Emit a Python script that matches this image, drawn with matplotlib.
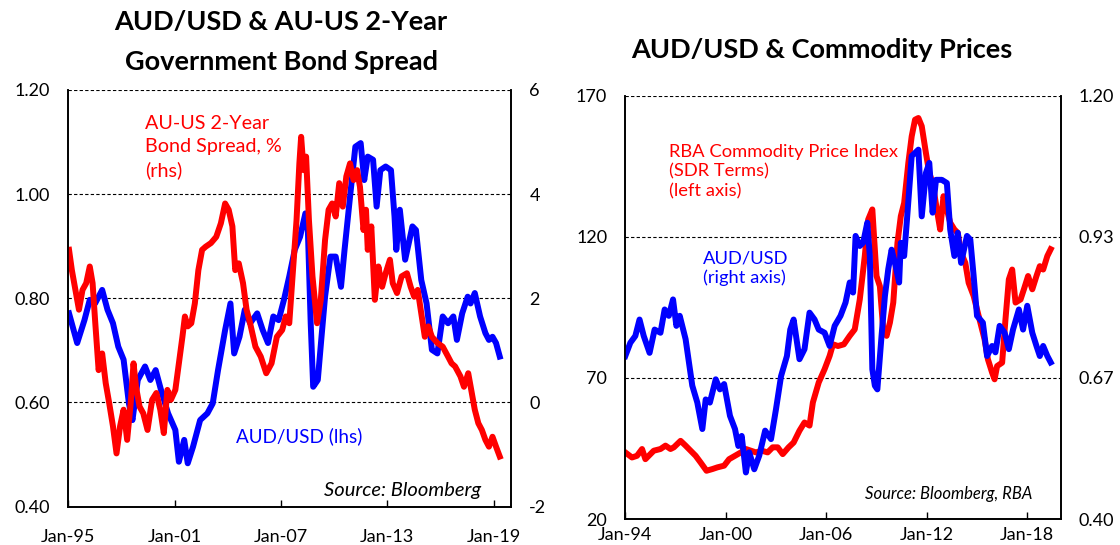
import numpy as np
import matplotlib.pyplot as plt

plt.rcParams['font.family'] = ['Lato', 'DejaVu Sans']

# ---- left chart: AUD/USD (lhs) and AU-US 2y spread (rhs) ----
aud_l_years = [1995.04, 1995.50, 1995.91, 1996.21, 1996.51, 1996.91, 1997.21, 1997.52, 1997.82, 1998.12,
               1998.42, 1998.62, 1998.92, 1999.33, 1999.63, 1999.93, 2000.23, 2000.63, 2001.04, 2001.24,
               2001.54, 2001.74, 2002.04, 2002.44, 2002.85, 2003.15, 2003.45, 2003.85, 2004.15, 2004.36,
               2004.66, 2004.96, 2005.26, 2005.66, 2005.97, 2006.27, 2006.57, 2006.87, 2007.17, 2007.47,
               2007.78, 2008.08, 2008.38, 2008.52, 2008.68, 2008.82, 2009.08, 2009.29, 2009.49, 2009.79,
               2010.09, 2010.39, 2010.59, 2010.90, 2011.20, 2011.50, 2011.70, 2011.90, 2012.20, 2012.40,
               2012.61, 2012.91, 2013.21, 2013.41, 2013.51, 2013.71, 2014.01, 2014.42, 2014.62, 2014.92,
               2015.22, 2015.52, 2015.83, 2016.13, 2016.43, 2016.73, 2016.93, 2017.23, 2017.54, 2017.70,
               2017.94, 2018.24, 2018.54, 2018.74, 2018.94, 2019.14, 2019.35]
aud_l = [0.771, 0.714, 0.758, 0.797, 0.790, 0.816, 0.778, 0.752, 0.707, 0.682,
         0.598, 0.566, 0.643, 0.669, 0.643, 0.662, 0.624, 0.579, 0.547, 0.486,
         0.528, 0.483, 0.515, 0.566, 0.579, 0.598, 0.662, 0.739, 0.790, 0.694,
         0.726, 0.778, 0.752, 0.771, 0.739, 0.714, 0.765, 0.758, 0.797, 0.842,
         0.893, 0.918, 0.963, 0.930, 0.752, 0.630, 0.643, 0.726, 0.803, 0.880,
         0.880, 0.822, 0.893, 0.995, 1.091, 1.098, 1.027, 1.072, 1.066, 0.976,
         1.046, 1.053, 1.046, 0.957, 0.893, 0.970, 0.874, 0.938, 0.931, 0.835,
         0.790, 0.701, 0.694, 0.765, 0.752, 0.765, 0.720, 0.771, 0.803, 0.790,
         0.810, 0.765, 0.733, 0.720, 0.726, 0.714, 0.688]

spread_years = [1995.04, 1995.20, 1995.40, 1995.60, 1995.80, 1996.01, 1996.21, 1996.37, 1996.51, 1996.71,
                1996.91, 1997.11, 1997.31, 1997.52, 1997.72, 1997.92, 1998.12, 1998.32, 1998.52, 1998.68,
                1998.82, 1999.02, 1999.23, 1999.47, 1999.73, 1999.97, 2000.19, 2000.39, 2000.59, 2000.79,
                2001.04, 2001.24, 2001.44, 2001.58, 2001.74, 2001.94, 2002.14, 2002.34, 2002.55, 2002.75,
                2003.05, 2003.35, 2003.61, 2003.85, 2004.05, 2004.26, 2004.42, 2004.62, 2004.86, 2005.06,
                2005.26, 2005.56, 2005.86, 2006.17, 2006.47, 2006.77, 2007.07, 2007.27, 2007.47, 2007.68,
                2007.88, 2008.04, 2008.14, 2008.28, 2008.42, 2008.58, 2008.78, 2009.04, 2009.25, 2009.49,
                2009.69, 2009.89, 2010.09, 2010.29, 2010.49, 2010.69, 2010.90, 2011.10, 2011.30, 2011.46,
                2011.66, 2011.80, 2011.90, 2012.10, 2012.30, 2012.50, 2012.71, 2012.91, 2013.15, 2013.31,
                2013.55, 2013.81, 2014.11, 2014.32, 2014.52, 2014.72, 2014.92, 2015.12, 2015.32, 2015.52,
                2015.83, 2016.13, 2016.43, 2016.63, 2016.83, 2017.13, 2017.33, 2017.57, 2017.74, 2017.94,
                2018.14, 2018.34, 2018.54, 2018.74, 2018.94, 2019.14, 2019.35]
spread = [2.93, 2.54, 2.16, 1.78, 2.16, 2.29, 2.61, 2.29, 1.58, 0.62,
          0.94, 0.37, -0.02, -0.46, -0.98, -0.46, -0.14, -0.72, -0.02, 0.75,
          0.30, -0.08, -0.21, -0.53, 0.05, 0.18, -0.14, -0.59, 0.24, 0.05,
          0.24, 0.75, 1.26, 1.65, 1.46, 1.52, 1.90, 2.54, 2.93, 2.99,
          3.06, 3.18, 3.44, 3.82, 3.70, 3.38, 2.54, 2.67, 2.29, 1.78,
          1.52, 1.07, 0.88, 0.56, 0.75, 1.26, 1.39, 1.65, 1.52, 2.54,
          3.50, 4.59, 5.10, 4.46, 4.72, 3.50, 2.42, 1.52, 1.97, 3.12,
          3.70, 3.82, 3.57, 4.21, 3.76, 4.34, 4.59, 4.27, 4.46, 4.14,
          3.31, 3.70, 2.93, 3.38, 1.97, 2.61, 2.22, 2.48, 2.74, 2.29,
          2.10, 2.42, 2.48, 2.22, 2.03, 2.16, 1.71, 1.26, 1.46, 1.26,
          1.14, 1.07, 0.88, 0.75, 0.69, 0.50, 0.30, 0.56, 0.24, -0.14,
          -0.40, -0.53, -0.72, -0.85, -0.66, -0.85, -1.04]

left_xticks = [1995, 2001, 2007, 2013, 2019]
left_xlabels = ['Jan-95', 'Jan-01', 'Jan-07', 'Jan-13', 'Jan-19']
left_yticks = [0.40, 0.60, 0.80, 1.00, 1.20]
left_y2ticks = [-2, 0, 2, 4, 6]

# ---- right chart: RBA commodity index (left) and AUD/USD (right) ----
cpi_years = [1994.00, 1994.40, 1994.70, 1995.00, 1995.20, 1995.70, 1996.10, 1996.40, 1996.70, 1996.90,
             1997.30, 1997.60, 1997.90, 1998.20, 1998.50, 1998.85, 1999.20, 1999.50, 1999.90, 2000.20,
             2000.55, 2000.90, 2001.20, 2001.50, 2001.80, 2002.15, 2002.50, 2002.80, 2003.10, 2003.40,
             2003.75, 2004.05, 2004.40, 2004.70, 2005.00, 2005.20, 2005.55, 2005.90, 2006.20, 2006.40,
             2006.70, 2007.05, 2007.40, 2007.70, 2008.00, 2008.30, 2008.50, 2008.75, 2008.85, 2009.00,
             2009.20, 2009.40, 2009.60, 2009.80, 2010.00, 2010.25, 2010.45, 2010.65, 2010.90, 2011.10,
             2011.30, 2011.50, 2011.70, 2011.95, 2012.15, 2012.35, 2012.60, 2012.80, 2013.00, 2013.20,
             2013.40, 2013.65, 2013.85, 2014.05, 2014.30, 2014.50, 2014.80, 2015.10, 2015.45, 2015.65,
             2015.90, 2016.05, 2016.20, 2016.50, 2016.70, 2016.90, 2017.10, 2017.30, 2017.60, 2017.80,
             2018.05, 2018.30, 2018.55, 2018.75, 2018.95, 2019.20, 2019.40]
cpi = [43.6, 41.8, 42.4, 44.8, 41.2, 44.2, 44.8, 46.0, 44.8, 45.4,
       47.7, 46.0, 44.2, 42.4, 40.0, 37.1, 37.7, 38.3, 38.9, 41.2,
       42.4, 43.6, 44.8, 44.2, 43.6, 44.2, 43.6, 45.4, 45.4, 43.0,
       45.4, 47.1, 51.3, 54.2, 53.1, 61.3, 68.4, 73.1, 77.8, 81.9,
       81.3, 81.9, 84.9, 87.2, 97.8, 113.2, 126.1, 129.7, 120.2, 106.1,
       102.5, 87.2, 84.9, 89.6, 96.7, 117.9, 127.3, 132.0, 146.2, 155.6,
       161.5, 162.1, 159.2, 149.7, 142.6, 139.1, 129.7, 122.6, 134.4, 129.7,
       125.0, 122.6, 121.4, 114.3, 110.8, 103.7, 99.0, 91.9, 83.7, 76.6,
       71.9, 69.5, 74.2, 75.4, 90.8, 104.9, 108.4, 96.7, 97.8, 101.4,
       106.1, 101.4, 106.1, 109.6, 108.4, 113.2, 115.6]

aud_r_years = [1994.00, 1994.30, 1994.60, 1994.85, 1995.10, 1995.45, 1995.75, 1996.10, 1996.35, 1996.60,
               1996.85, 1997.05, 1997.25, 1997.60, 1997.80, 1998.00, 1998.30, 1998.60, 1998.80, 1999.05,
               1999.40, 1999.65, 1999.90, 2000.25, 2000.55, 2000.75, 2000.95, 2001.20, 2001.40, 2001.70,
               2002.00, 2002.35, 2002.70, 2003.00, 2003.30, 2003.65, 2003.85, 2004.05, 2004.40, 2004.70,
               2005.00, 2005.30, 2005.55, 2005.90, 2006.20, 2006.50, 2006.85, 2007.15, 2007.40, 2007.60,
               2007.75, 2008.00, 2008.20, 2008.45, 2008.60, 2008.75, 2008.90, 2009.05, 2009.30, 2009.50,
               2009.70, 2009.90, 2010.10, 2010.35, 2010.45, 2010.65, 2010.85, 2011.10, 2011.30, 2011.50,
               2011.70, 2011.95, 2012.15, 2012.35, 2012.55, 2012.90, 2013.20, 2013.40, 2013.65, 2013.85,
               2014.05, 2014.40, 2014.60, 2014.80, 2015.00, 2015.35, 2015.60, 2015.90, 2016.10, 2016.35,
               2016.65, 2016.90, 2017.15, 2017.50, 2017.75, 2018.00, 2018.30, 2018.55, 2018.75, 2018.95,
               2019.20, 2019.40]
aud_r = [0.708, 0.733, 0.746, 0.777, 0.746, 0.714, 0.758, 0.752, 0.796, 0.784,
         0.815, 0.765, 0.784, 0.740, 0.696, 0.652, 0.620, 0.570, 0.626, 0.620,
         0.664, 0.645, 0.655, 0.595, 0.570, 0.538, 0.557, 0.488, 0.526, 0.494,
         0.520, 0.567, 0.551, 0.608, 0.670, 0.708, 0.758, 0.777, 0.702, 0.721,
         0.790, 0.777, 0.758, 0.752, 0.727, 0.765, 0.784, 0.809, 0.847, 0.828,
         0.935, 0.916, 0.922, 0.960, 0.897, 0.683, 0.652, 0.645, 0.746, 0.821,
         0.872, 0.909, 0.884, 0.847, 0.922, 0.897, 0.979, 1.086, 1.092, 1.098,
         0.972, 1.054, 1.073, 0.979, 1.041, 1.041, 1.035, 0.947, 0.897, 0.941,
         0.884, 0.935, 0.928, 0.859, 0.784, 0.771, 0.708, 0.727, 0.715, 0.765,
         0.752, 0.721, 0.758, 0.796, 0.758, 0.803, 0.752, 0.727, 0.708, 0.727,
         0.708, 0.696]

right_xticks = [1994, 2000, 2006, 2012, 2018]
right_xlabels = ['Jan-94', 'Jan-00', 'Jan-06', 'Jan-12', 'Jan-18']
right_yticks = [20, 70, 120, 170]
right_y2ticks = [0.40, 0.40 + 0.8 / 3, 0.40 + 1.6 / 3, 1.20]

RED = '#ff0000'
BLUE = '#0000ff'
LW = 4.3


def style_axes(ax, ax2, pad_x):
    ax.spines['top'].set_visible(False)
    ax2.spines['top'].set_visible(False)
    for a in (ax, ax2):
        for s in ('left', 'right', 'bottom'):
            a.spines[s].set_linewidth(1.2)
            a.spines[s].set_color('black')
    ax.grid(axis='y', color='black', linestyle=(0, (3, 2)), linewidth=0.8)
    ax.tick_params(axis='y', length=0, pad=13, labelsize=13)
    ax2.tick_params(axis='y', length=0, pad=13, labelsize=13)
    ax.tick_params(axis='x', direction='in', length=5, width=1, pad=pad_x, labelsize=13)


fig = plt.figure(figsize=(11.2, 5.45), dpi=100)

# left chart
ax1 = fig.add_axes([0.061, 0.0706, 0.3955, 0.7643])
ax1b = ax1.twinx()
ax1.plot(aud_l_years, aud_l, color=BLUE, lw=LW, solid_joinstyle='round')
ax1b.plot(spread_years, spread, color=RED, lw=LW, solid_joinstyle='round')
ax1.set_xlim(1995, 2020)
ax1.set_ylim(0.40, 1.20)
ax1b.set_ylim(-2, 6)
ax1.set_xticks(left_xticks)
ax1.set_xticklabels(left_xlabels)
ax1.set_yticks(left_yticks)
ax1.set_yticklabels(['%.2f' % v for v in left_yticks])
ax1b.set_yticks(left_y2ticks)
ax1b.set_yticklabels([str(v) for v in left_y2ticks])
style_axes(ax1, ax1b, 16)

ax1.text(0.173, 0.94, 'AU-US 2-Year\nBond Spread, %\n(rhs)', transform=ax1.transAxes,
         color=RED, fontsize=14.2, va='top', ha='left', linespacing=1.42)
ax1.text(0.378, 0.169, 'AUD/USD (lhs)', transform=ax1.transAxes,
         color=BLUE, fontsize=13.6, va='center', ha='left')
ax1.text(0.932, 0.038, 'Source: Bloomberg', transform=ax1.transAxes,
         fontsize=14.5, style='italic', va='center', ha='right')
fig.text(0.251, 0.960, 'AUD/USD & AU-US 2-Year', ha='center', va='center',
         fontsize=19.5, fontweight='bold')
fig.text(0.251, 0.886, 'Government Bond Spread', ha='center', va='center',
         fontsize=19.5, fontweight='bold')

# right chart
ax2 = fig.add_axes([0.5583, 0.0477, 0.3888, 0.7767])
ax2b = ax2.twinx()
ax2.plot(cpi_years, cpi, color=RED, lw=LW, solid_joinstyle='round')
ax2b.plot(aud_r_years, aud_r, color=BLUE, lw=LW, solid_joinstyle='round')
ax2.set_xlim(1994, 2020)
ax2.set_ylim(20, 170)
ax2b.set_ylim(0.40, 1.20)
ax2.set_xticks(right_xticks)
ax2.set_xticklabels(right_xlabels)
ax2.set_yticks(right_yticks)
ax2.set_yticklabels([str(v) for v in right_yticks])
ax2b.set_yticks(right_y2ticks)
ax2b.set_yticklabels(['%.2f' % v for v in right_y2ticks])
style_axes(ax2, ax2b, 6)

ax2.text(0.10, 0.885, 'RBA Commodity Price Index\n(SDR Terms)\n(left axis)', transform=ax2.transAxes,
         color=RED, fontsize=13.2, va='top', ha='left', linespacing=1.25)
ax2.text(0.178, 0.635, 'AUD/USD\n(right axis)', transform=ax2.transAxes,
         color=BLUE, fontsize=13.2, va='top', ha='left', linespacing=1.25)
ax2.text(0.935, 0.059, 'Source: Bloomberg, RBA', transform=ax2.transAxes,
         fontsize=12, style='italic', va='center', ha='right')
fig.text(0.734, 0.908, 'AUD/USD & Commodity Prices', ha='center', va='center',
         fontsize=19.5, fontweight='bold')

fig.savefig('out.png', dpi=100)
